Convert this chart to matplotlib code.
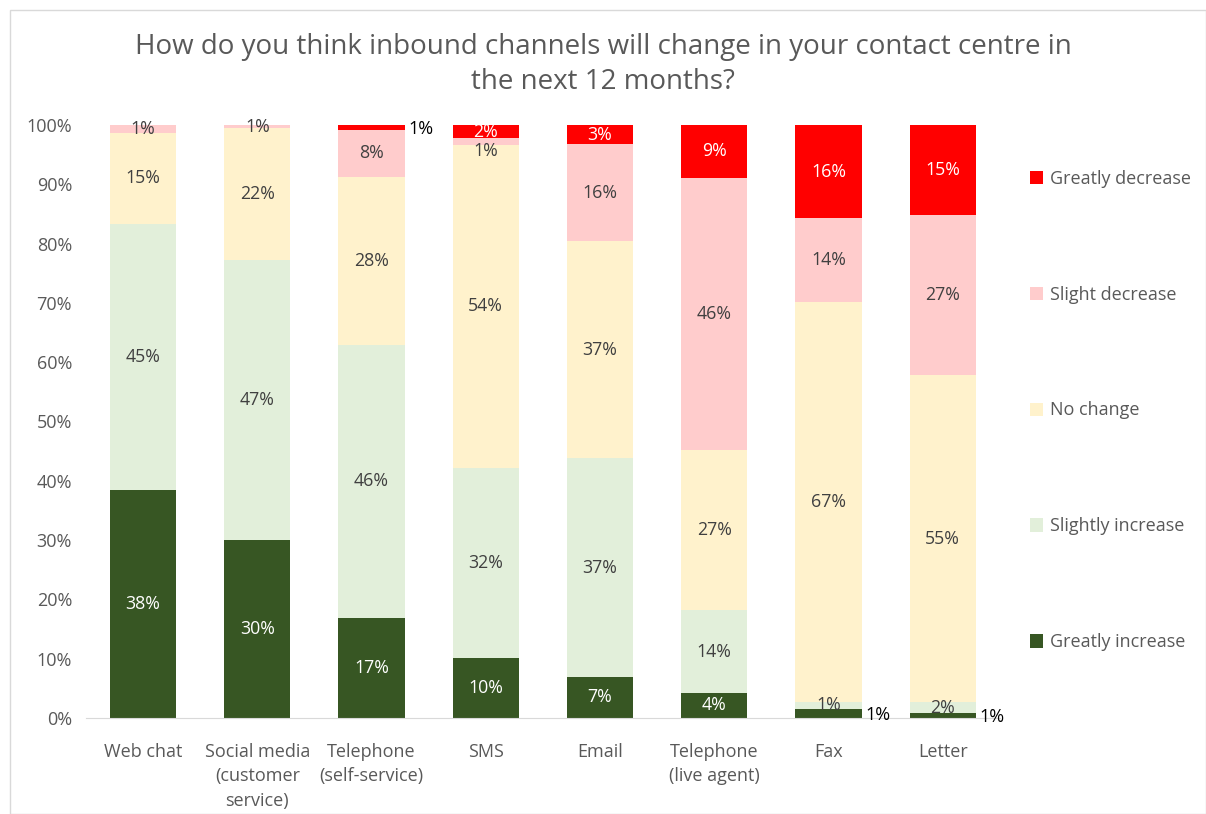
import numpy as np
import matplotlib.pyplot as plt
from matplotlib.patches import Rectangle

plt.rcParams['font.family'] = ['Open Sans', 'DejaVu Sans']

channels = ['Web chat', 'Social media\n(customer\nservice)', 'Telephone\n(self-service)', 'SMS',
            'Email', 'Telephone\n(live agent)', 'Fax', 'Letter']
series = ['Greatly increase', 'Slightly increase', 'No change', 'Slight decrease', 'Greatly decrease']
colors = ['#375623', '#E2EFDA', '#FFF2CC', '#FFCCCC', '#FF0000']

greatly_increase = [38.4, 30.0, 16.9, 10.1, 6.9, 4.2, 1.5, 0.8]
slightly_increase = [44.9, 47.2, 46.0, 32.1, 36.9, 14.0, 1.2, 1.9]
no_change = [15.4, 22.3, 28.3, 54.4, 36.6, 27.0, 67.5, 55.1]
slight_decrease = [1.3, 0.5, 8.0, 1.2, 16.4, 45.9, 14.1, 27.0]
greatly_decrease = [0.0, 0.0, 0.8, 2.2, 3.2, 8.9, 15.7, 15.2]
labels = [
    ['38%', '30%', '17%', '10%', '7%', '4%', '1%', '1%'],
    ['45%', '47%', '46%', '32%', '37%', '14%', '1%', '2%'],
    ['15%', '22%', '28%', '54%', '37%', '27%', '67%', '55%'],
    ['1%', '1%', '8%', '1%', '16%', '46%', '14%', '27%'],
    ['', '', '1%', '2%', '3%', '9%', '16%', '15%'],
]
# labels drawn beside the bar instead of inside
outside = [(4, 2), (0, 6), (0, 7)]

data = np.array([greatly_increase, slightly_increase, no_change, slight_decrease, greatly_decrease])

fig = plt.figure(figsize=(12.06, 8.14), dpi=100)
fig.patches.append(Rectangle((10 / 1206, 0), 1 - 10 / 1206, 1 - 10 / 814, transform=fig.transFigure,
                             fill=False, edgecolor='#D9D9D9', lw=1))
ax = fig.add_axes([0.0713, 0.118, 0.829 - 0.0713, 0.7284])

x = np.arange(len(channels))
w = 0.58
bottom = np.zeros(len(channels))
handles = []
for i, name in enumerate(series):
    bars = ax.bar(x, data[i], w, bottom=bottom, color=colors[i], label=name, zorder=2)
    handles.append(bars)
    for j in range(len(channels)):
        txt = labels[i][j]
        if not txt:
            continue
        mid = bottom[j] + data[i][j] / 2
        if (i, j) in outside:
            ax.text(x[j] + w / 2 + 0.03, mid - 0.3, txt, ha='left', va='center', fontsize=13, color='black')
        else:
            if (i, j) == (3, 3):
                mid -= 1.6  # SMS slight decrease label sits below its thin slice
            tc = 'white' if i in (0, 4) else '#404040'
            ax.text(x[j], mid, txt, ha='center', va='center', fontsize=12.8, color=tc)
    bottom += data[i]

ax.set_xlim(-0.5, len(channels) - 0.5)
ax.set_ylim(0, 100)
ax.set_yticks(np.arange(0, 101, 10))
ax.set_yticklabels([f'{v}%' for v in range(0, 101, 10)])
ax.set_xticks(x)
ax.set_xticklabels(channels, va='top', linespacing=1.45)
ax.tick_params(axis='both', length=0, labelsize=13, colors='#595959')
ax.tick_params(axis='x', pad=18)
ax.tick_params(axis='y', pad=10)
for s in ['top', 'right', 'left']:
    ax.spines[s].set_visible(False)
ax.spines['bottom'].set_color('#D9D9D9')

fig.suptitle('How do you think inbound channels will change in your contact centre in\nthe next 12 months?',
             y=0.96, fontsize=20, color='#595959', linespacing=1.35)

leg = ax.legend(handles[::-1], series[::-1], loc='upper left', bbox_to_anchor=(1.015, 0.952),
                frameon=False, fontsize=13, labelcolor='#595959', labelspacing=5.42,
                handlelength=0.75, handleheight=0.75, handletextpad=0.4)

fig.savefig('out.png', dpi=100)
